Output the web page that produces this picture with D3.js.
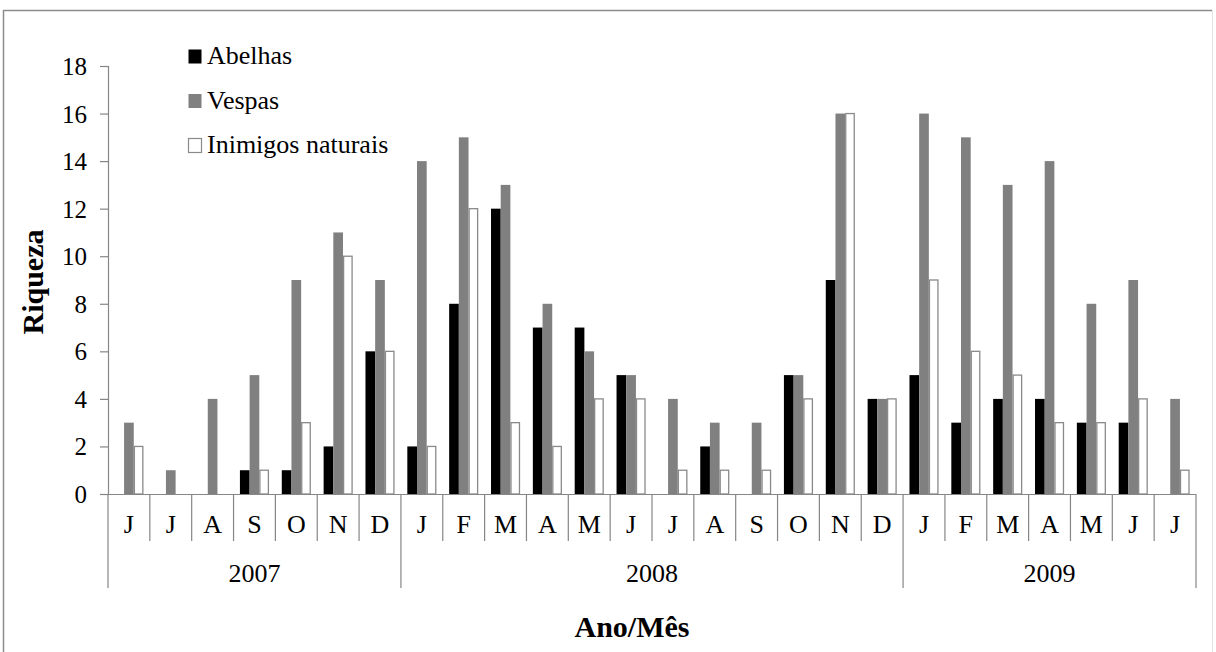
<!DOCTYPE html>
<html><head><meta charset="utf-8">
<script src="https://cdn.jsdelivr.net/npm/d3@7"></script>
<style>body{margin:0;background:#fff}svg{display:block}</style>
</head><body>
<svg id="chart" width="1216" height="652" style="font-family:'Liberation Serif','Times New Roman',serif"></svg>
<script>
const months = ["J","J","A","S","O","N","D","J","F","M","A","M","J","J","A","S","O","N","D","J","F","M","A","M","J","J"];
const years = [{label:"2007", count:7},{label:"2008", count:12},{label:"2009", count:7}];
const seriesNames = ["Abelhas","Vespas","Inimigos naturais"];
const abelhas = [0,0,0,1,1,2,6, 2,8,12,7,7,5,0,2,0,5,9,4, 5,3,4,4,3,3,0];
const vespas = [3,1,4,5,9,11,9, 14,15,13,8,6,5,4,3,3,5,16,4, 16,15,13,14,8,9,4];
const inimigos = [2,0,0,1,3,10,6, 2,12,3,2,4,4,1,1,1,4,16,4, 9,6,5,3,3,4,1];
const yTicks = [0,2,4,6,8,10,12,14,16,18];

const svg = d3.select("#chart");
const font = "'Liberation Serif','Times New Roman',serif";
const axisColor = "#868686";
const L = 108, R = 1196, T = 66, B = 494;

const fills = {"Abelhas":"#000000","Vespas":"#808080","Inimigos naturais":"#ffffff"};
const strokes = {"Abelhas":"none","Vespas":"none","Inimigos naturais":"#8a8a8a"};
const values = {"Abelhas":abelhas,"Vespas":vespas,"Inimigos naturais":inimigos};

// outer frame
svg.append("line").attr("x1",3.5).attr("x2",3.5).attr("y1",10).attr("y2",652).attr("stroke","#8c8c8c").attr("stroke-width",1.5);
svg.append("line").attr("x1",3).attr("x2",1212).attr("y1",10.5).attr("y2",10.5).attr("stroke","#8c8c8c").attr("stroke-width",1.5);
svg.append("line").attr("x1",1212.5).attr("x2",1212.5).attr("y1",10).attr("y2",652).attr("stroke","#e4e4e4").attr("stroke-width",1);

const x0 = d3.scaleBand().domain(d3.range(months.length)).range([L,R]).padding(0);
const x1 = d3.scaleBand().domain(seriesNames).range([0,x0.bandwidth()]).paddingInner(0).paddingOuter(0.66);
const y = d3.scaleLinear().domain([0,18]).range([B,T]);

// y axis
const yAxis = d3.axisLeft(y).tickValues(yTicks).tickSize(8).tickPadding(13).tickFormat(d3.format("d"));
const yg = svg.append("g").attr("transform",`translate(${L},0)`).call(yAxis);
yg.attr("font-family",font);
yg.select(".domain").attr("stroke",axisColor).attr("stroke-width",1.2);
yg.selectAll(".tick line").attr("stroke",axisColor).attr("stroke-width",1.2);
yg.selectAll(".tick text").attr("font-family",font).attr("font-size",25).attr("fill","#000").attr("dy","0.34em");

// bars
const groups = svg.append("g").selectAll("g").data(d3.range(months.length)).join("g")
  .attr("transform",i=>`translate(${x0(i)},0)`);
groups.selectAll("rect").data(i=>seriesNames.map(s=>({s,v:values[s][i]}))).join("rect")
  .filter(d=>d.v>0)
  .attr("x",d=>x1(d.s)+(d.s==="Inimigos naturais"?0.6:0))
  .attr("width",d=>x1.bandwidth()-(d.s==="Inimigos naturais"?1.2:0))
  .attr("y",d=>y(d.v))
  .attr("height",d=>y(0)-y(d.v))
  .attr("fill",d=>fills[d.s])
  .attr("stroke",d=>strokes[d.s])
  .attr("stroke-width",1.3);

// x axis line
svg.append("line").attr("x1",L-8).attr("x2",R).attr("y1",B+0.5).attr("y2",B+0.5).attr("stroke",axisColor).attr("stroke-width",1.2);

// month dividers
const yearStarts = [0];
years.forEach((yr,i)=>yearStarts.push(yearStarts[i]+yr.count));
const boundaries = d3.range(months.length+1);
svg.append("g").selectAll("line").data(boundaries).join("line")
  .attr("x1",i=>i<months.length?x0(i):R).attr("x2",i=>i<months.length?x0(i):R)
  .attr("y1",B).attr("y2",i=>yearStarts.includes(i)?588:541)
  .attr("stroke",axisColor).attr("stroke-width",1.2);

// month labels
svg.append("g").selectAll("text").data(months).join("text")
  .attr("x",(d,i)=>x0(i)+x0.bandwidth()/2).attr("y",533)
  .attr("text-anchor","middle").attr("font-family",font).attr("font-size",26).text(d=>d);

// year labels
svg.append("g").selectAll("text").data(years).join("text")
  .attr("x",(d,i)=>(x0(yearStarts[i]) + (yearStarts[i+1]<months.length?x0(yearStarts[i+1]):R))/2)
  .attr("y",582).attr("text-anchor","middle").attr("font-family",font).attr("font-size",26).text(d=>d.label);

// axis titles
svg.append("text").attr("transform","translate(43,282) rotate(-90)").attr("text-anchor","middle")
  .attr("font-family",font).attr("font-weight","bold").attr("font-size",30).text("Riqueza");
svg.append("text").attr("x",632).attr("y",637).attr("text-anchor","middle")
  .attr("font-family",font).attr("font-weight","bold").attr("font-size",30).text("Ano/Mês");

// legend
const lg = svg.append("g").selectAll("g").data(seriesNames).join("g")
  .attr("transform",(d,i)=>`translate(188,${49+i*44.5})`);
lg.append("rect").attr("x",0.5).attr("y",0.5).attr("width",13).attr("height",14)
  .attr("fill",d=>fills[d]).attr("stroke",d=>d==="Inimigos naturais"?"#8a8a8a":"none").attr("stroke-width",1.2);
lg.append("text").attr("x",19).attr("y",15).attr("font-family",font).attr("font-size",26).text(d=>d);
</script>
</body></html>
